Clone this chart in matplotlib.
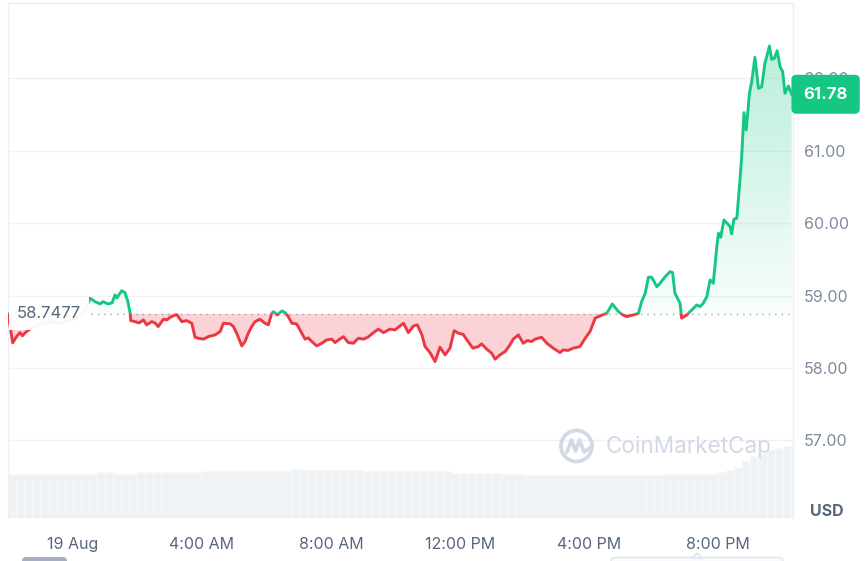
import numpy as np
import matplotlib
matplotlib.use("Agg")
import matplotlib.pyplot as plt
import matplotlib.transforms as mtransforms
from matplotlib.patches import Rectangle, Circle, FancyBboxPatch, Polygon
from matplotlib.lines import Line2D
from matplotlib.path import Path

plt.rcParams['font.family'] = ['Inter', 'DejaVu Sans']

# ---------------- data (hours relative to 19 Aug 00:00) ----------------
hours = [-2.0, -1.86, -1.74, -1.63, -1.56, -1.48, -1.32, -1.01, -0.70, -0.39,
         -0.08, 0.16, 0.32, 0.41, 0.54, 0.69, 0.85, 0.94, 1.09, 1.22,
         1.31, 1.37, 1.52, 1.62, 1.71, 1.78, 1.80, 1.93, 2.06, 2.19,
         2.29, 2.45, 2.55, 2.65, 2.81, 2.92, 3.02, 3.22, 3.38, 3.53,
         3.69, 3.79, 3.89, 4.05, 4.20, 4.41, 4.57, 4.67, 4.88, 4.98,
         5.08, 5.24, 5.34, 5.44, 5.54, 5.65, 5.80, 5.96, 6.06, 6.17,
         6.22, 6.34, 6.48, 6.58, 6.68, 6.79, 6.94, 7.10, 7.20, 7.30,
         7.41, 7.56, 7.72, 7.87, 8.03, 8.13, 8.24, 8.39, 8.54, 8.70,
         8.85, 9.01, 9.16, 9.32, 9.47, 9.63, 9.83, 9.99, 10.09, 10.25,
         10.40, 10.56, 10.68, 10.82, 10.92, 11.07, 11.23, 11.38, 11.54, 11.69,
         11.82, 11.95, 12.10, 12.23, 12.40, 12.57, 12.67, 12.83, 12.98, 13.09,
         13.24, 13.40, 13.55, 13.65, 13.81, 13.96, 14.09, 14.22, 14.33, 14.53,
         14.69, 14.89, 15.10, 15.20, 15.35, 15.51, 15.72, 15.88, 16.03, 16.19,
         16.34, 16.44, 16.55, 16.72, 16.91, 17.05, 17.17, 17.37, 17.53, 17.63,
         17.74, 17.84, 17.94, 18.10, 18.20, 18.36, 18.51, 18.59, 18.66, 18.82,
         18.87, 19.03, 19.13, 19.34, 19.44, 19.54, 19.65, 19.75, 19.85, 19.96,
         20.01, 20.08, 20.18, 20.37, 20.42, 20.49, 20.58, 20.66, 20.73, 20.80,
         20.87, 20.97, 21.04, 21.14, 21.25, 21.35, 21.45, 21.59, 21.66, 21.74,
         21.83, 21.92, 22.00, 22.07, 22.18, 22.28]

prices = [58.748, 58.348, 58.435, 58.490, 58.445, 58.486, 58.540, 58.600, 58.637, 58.610,
          58.665, 58.692, 58.761, 58.830, 58.964, 58.917, 58.886, 58.917, 58.886, 58.900,
          59.010, 58.968, 59.069, 59.041, 58.917, 58.757, 58.655, 58.641, 58.623, 58.665,
          58.596, 58.641, 58.623, 58.573, 58.674, 58.665, 58.702, 58.740, 58.641, 58.655,
          58.619, 58.426, 58.412, 58.399, 58.434, 58.458, 58.504, 58.619, 58.610, 58.573,
          58.481, 58.306, 58.366, 58.481, 58.568, 58.641, 58.674, 58.619, 58.596, 58.757,
          58.779, 58.734, 58.789, 58.766, 58.710, 58.619, 58.610, 58.481, 58.399, 58.417,
          58.366, 58.306, 58.343, 58.389, 58.399, 58.352, 58.389, 58.434, 58.352, 58.343,
          58.412, 58.399, 58.430, 58.490, 58.537, 58.490, 58.537, 58.527, 58.564, 58.619,
          58.490, 58.582, 58.596, 58.458, 58.297, 58.214, 58.090, 58.288, 58.182, 58.275,
          58.517, 58.481, 58.465, 58.380, 58.275, 58.297, 58.334, 58.261, 58.206, 58.123,
          58.182, 58.228, 58.320, 58.399, 58.458, 58.343, 58.380, 58.366, 58.399, 58.426,
          58.343, 58.275, 58.214, 58.251, 58.244, 58.275, 58.297, 58.412, 58.504, 58.688,
          58.720, 58.740, 58.757, 58.885, 58.779, 58.734, 58.710, 58.734, 58.757, 58.917,
          59.033, 59.254, 59.254, 59.124, 59.171, 59.262, 59.331, 59.317, 59.033, 58.895,
          58.689, 58.734, 58.779, 58.871, 58.848, 58.895, 58.986, 59.217, 59.171, 59.677,
          59.862, 59.807, 60.045, 59.953, 59.852, 60.055, 60.069, 60.505, 60.919, 61.526,
          61.287, 61.793, 61.953, 62.290, 61.862, 61.884, 62.207, 62.446, 62.262, 62.276,
          62.381, 62.160, 62.091, 61.793, 61.894, 61.780]

open_price = 58.7477
open_label = "58.7477"
last_label = "61.78"

# 15-minute volume bars starting at 22:00 on 18 Aug (millions USD, estimated)
vol_start = -2.0
vol_step = 0.25
volume = [11.1, 11.1, 11.1, 11.1, 11.1, 11.1, 11.1, 11.1, 11.1, 11.1, 11.1,
          11.5, 11.5,
          11.1, 11.1, 11.1,
          11.5, 11.5, 11.5, 11.5, 11.5, 11.5, 11.5, 11.5,
          11.8, 11.8, 11.8, 11.8, 11.8, 11.8, 11.8, 11.8, 11.8, 11.8, 11.8,
          12.25, 12.25,
          11.9, 11.9,
          12.0, 12.0, 12.0, 12.0, 12.0,
          11.75, 11.75, 11.75, 11.75, 11.75, 11.75, 11.75, 11.75, 11.75, 11.75, 11.75,
          11.2, 11.2, 11.2, 11.2, 11.2, 11.2,
          11.0, 11.0, 11.0,
          10.75, 10.75, 10.75, 10.75, 10.75, 10.75, 10.75, 10.75, 10.75, 10.75,
          10.75, 10.75, 10.75, 10.75, 10.75, 10.75, 10.75,
          11.1, 11.1, 11.1, 11.1, 11.1, 11.1, 11.1,
          11.6, 12.0, 12.75, 14.25, 15.5, 16.25, 17.0, 17.5, 17.9, 18.0]

x_ticks = [0, 4, 8, 12, 16, 20]
x_labels = ["19 Aug", "4:00 AM", "8:00 AM", "12:00 PM", "4:00 PM", "8:00 PM"]
y_ticks = [57, 58, 59, 60, 61, 62]
y_labels = ["57.00", "58.00", "59.00", "60.00", "61.00", "62.00"]

GREEN = "#16c784"
RED = "#ea3943"

# ---------------- figure ----------------
W, H = 867, 561
fig = plt.figure(figsize=(W / 100, H / 100), dpi=100)
fig.patch.set_facecolor("white")
rect = [8 / W, 43 / H, 785 / W, 515 / H]

xmin, xmax = -2.005, 22.32
ymin, ymax = 55.93, 63.04

# volume axes (behind)
axv = fig.add_axes(rect, zorder=0)
vt = vol_start + vol_step * np.arange(len(volume))
axv.bar(vt, volume, width=vol_step, align="edge", color="#eff2f5",
        edgecolor="#f7f8fa", linewidth=0.6)
axv.set_xlim(xmin, xmax)
axv.set_ylim(0, 128.75)
axv.axis("off")

# price axes
ax = fig.add_axes(rect, zorder=1)
ax.patch.set_visible(False)

t = np.array(hours)
p = np.array(prices)

# red fill below open
ax.fill_between(t, p, open_price, where=p <= open_price, interpolate=True,
                facecolor="#fbd2d5", edgecolor="none", linewidth=0, zorder=2)

# green gradient fill above open
gcol = ax.fill_between(t, p, open_price, where=p >= open_price, interpolate=True,
                       facecolor="none", edgecolor="none", linewidth=0, zorder=2)
gpath = Path.make_compound_path(*gcol.get_paths())
grad = np.zeros((256, 1, 4))
grad[..., 0] = 22 / 255
grad[..., 1] = 199 / 255
grad[..., 2] = 132 / 255
grad[:, 0, 3] = np.linspace(0.30, 0.03, 256)
im = ax.imshow(grad, extent=[xmin, xmax, open_price, 62.5], origin="upper",
               aspect="auto", zorder=2, interpolation="bilinear")
im.set_clip_path(gpath, ax.transData)

# dotted open line
ax.axhline(open_price, color="#9aa1b3", linewidth=1.0, dashes=(1, 3.6), zorder=3)

# price line: green above open, red below
lg, = ax.plot(t, p, color=GREEN, linewidth=2.1, zorder=5, solid_joinstyle="round")
lr, = ax.plot(t, p, color=RED, linewidth=2.1, zorder=5, solid_joinstyle="round")
clip_up = Rectangle((xmin, open_price), xmax - xmin, ymax - open_price, transform=ax.transData)
clip_dn = Rectangle((xmin, ymin), xmax - xmin, open_price - ymin, transform=ax.transData)
lg.set_clip_path(clip_up)
lr.set_clip_path(clip_dn)

ax.set_xlim(xmin, xmax)
ax.set_ylim(ymin, ymax)

# axes styling
ax.yaxis.tick_right()
ax.set_yticks(y_ticks)
ax.set_yticklabels(y_labels)
ax.set_xticks(x_ticks)
ax.set_xticklabels(x_labels)
ax.tick_params(axis="y", length=0, pad=8, labelsize=11.5, labelcolor="#808a9d")
ax.tick_params(axis="x", length=0, pad=14, labelsize=11.5, labelcolor="#58667e")
ax.grid(axis="y", color="#eff2f5", linewidth=1.0, zorder=0)
ax.set_axisbelow(True)
for side in ["left", "top", "right"]:
    ax.spines[side].set_color("#eceff3")
    ax.spines[side].set_linewidth(1.0)
ax.spines["bottom"].set_visible(False)

# open price label on the left
blend = mtransforms.blended_transform_factory(ax.transAxes, ax.transData)
ax.text(0.0115, open_price, open_label, transform=blend, ha="left", va="center",
        fontsize=12, color="#58667e", zorder=7,
        bbox=dict(boxstyle="square,pad=0.5", fc="white", ec="none", alpha=0.95))

# last price tag on the right
ax.annotate(last_label, xy=(1.0, prices[-1]), xycoords=blend,
            xytext=(7.5, 0), textcoords="offset points", ha="left", va="center",
            fontsize=12, fontweight="bold", color="white", zorder=10,
            annotation_clip=False, clip_on=False,
            bbox=dict(boxstyle="round,pad=0.72,rounding_size=0.3", fc=GREEN, ec="none"))

# USD label
fig.text(810 / W, 1 - 511 / H, "USD", ha="left", va="center", fontsize=11.5,
         fontweight="bold", color="#58667e")

# pixel-space transform for decorations (x right, y down)
pix = mtransforms.Affine2D().scale(1 / 100, -1 / 100).translate(0, H / 100) + fig.dpi_scale_trans

# watermark
wm = "#d2d9e5"
fig.patches.append(Circle((576.5, 446), 15.5, transform=pix, fill=False, ec=wm, lw=2.7))
fig.lines.append(Line2D([567, 571.5, 575.5, 579.5, 584, 591],
                        [452, 440, 451, 440, 452, 447],
                        transform=pix, color=wm, lw=2.7, solid_joinstyle="round",
                        solid_capstyle="round"))
fig.text(606 / W, 1 - 447 / H, "CoinMarketCap", ha="left", va="center",
         fontsize=16.2, color=wm)

# range selector remnants at the bottom
fig.patches.append(FancyBboxPatch((22, 557), 45, 10, boxstyle="round,pad=0,rounding_size=4",
                                  transform=pix, fc="#a6b0c3", ec="none"))
fig.patches.append(FancyBboxPatch((611, 557.5), 172, 10, boxstyle="round,pad=0,rounding_size=4",
                                  transform=pix, fc="#f8f9fd", ec="#dde1f2", lw=1))
fig.patches.append(Polygon([[692, 558], [697, 553], [702, 558]], closed=True,
                           transform=pix, fc="#f8f9fd", ec="#dde1f2", lw=1))

fig.savefig("out.png", dpi=100, facecolor="white")
